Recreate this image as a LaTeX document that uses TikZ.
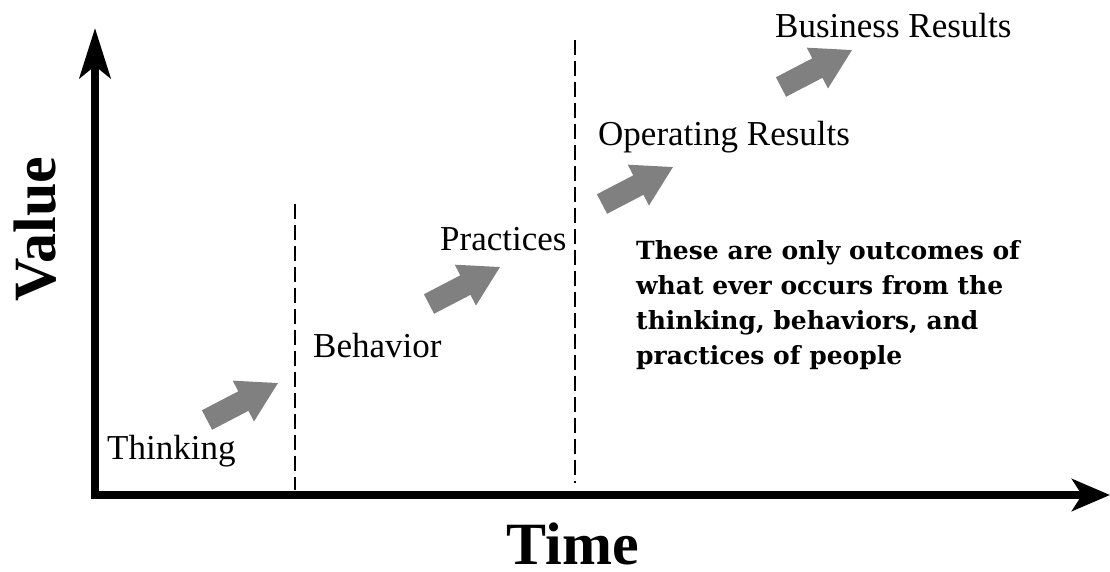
\documentclass[tikz,border=0pt]{standalone}
\usepackage{fontspec}
\setmainfont{Liberation Serif}
\newfontfamily\parfont{DejaVu Serif}
\usetikzlibrary{arrows.meta}
\begin{document}
\begin{tikzpicture}[x=1pt,y=-1pt,
  axisline/.style={line width=8pt},
  dashline/.style={line width=2pt, dash pattern=on 15pt off 6pt},
  lbl/.style={anchor=base west, inner sep=0pt, font=\fontsize{35}{35}\selectfont},
  big/.style={anchor=base, inner sep=0pt, text depth=0pt, font=\bfseries\fontsize{60}{60}\selectfont},
  blockarrow/.style={fill=black!50, draw=none}
]
\useasboundingbox (0,0) rectangle (1110,571);
% axes
\coordinate (yb) at (95,499);
\coordinate (yt) at (95,28);
\coordinate (xl) at (91,495);
\coordinate (xr) at (1110,495);
\draw[axisline, -{Stealth[length=50pt,width=31pt,inset=12pt]}] (yb) -- (yt);
\draw[axisline, -{Stealth[length=38pt,width=32pt,inset=10pt]}] (xl) -- (xr);
% dashed separators
\coordinate (d1t) at (295,204);
\coordinate (d1b) at (295,490);
\coordinate (d2t) at (575,40);
\coordinate (d2b) at (575,483);
\draw[dashline] (d1t) -- (d1b);
\draw[dashline] (d2t) -- (d2b);
% axis titles
\node[big, rotate=90] (value) at (55,229) {Value};
\node[big] (time) at (573,564) {Time};
% labels
\node[lbl] (thinking) at (107,459) {Thinking};
\node[lbl] (behavior) at (313,357) {Behavior};
\node[lbl] (practices) at (440,250) {Practices};
\node[lbl] (operating) at (598,145) {Operating Results};
\node[lbl] (business) at (775,37) {Business Results};
% block arrows
\foreach \n/\px/\py in {a1/207/420, a2/429/304, a3/602/204, a4/781/87}{
  \coordinate (\n) at (\px,\py);
  \fill[blockarrow, shift={(\n)}, rotate=27.5]
    (0,-11) -- (41,-11) -- (41,-23) -- (80,0) -- (41,23) -- (41,11) -- (0,11) -- cycle;
}
% note
\node[anchor=north west, inner sep=0pt, align=left,
  font=\parfont\bfseries\fontsize{25}{35}\selectfont] (note) at (636,240)
  {These are only outcomes of\\what ever occurs from the\\thinking, behaviors, and\\practices of people};
\end{tikzpicture}
\end{document}
